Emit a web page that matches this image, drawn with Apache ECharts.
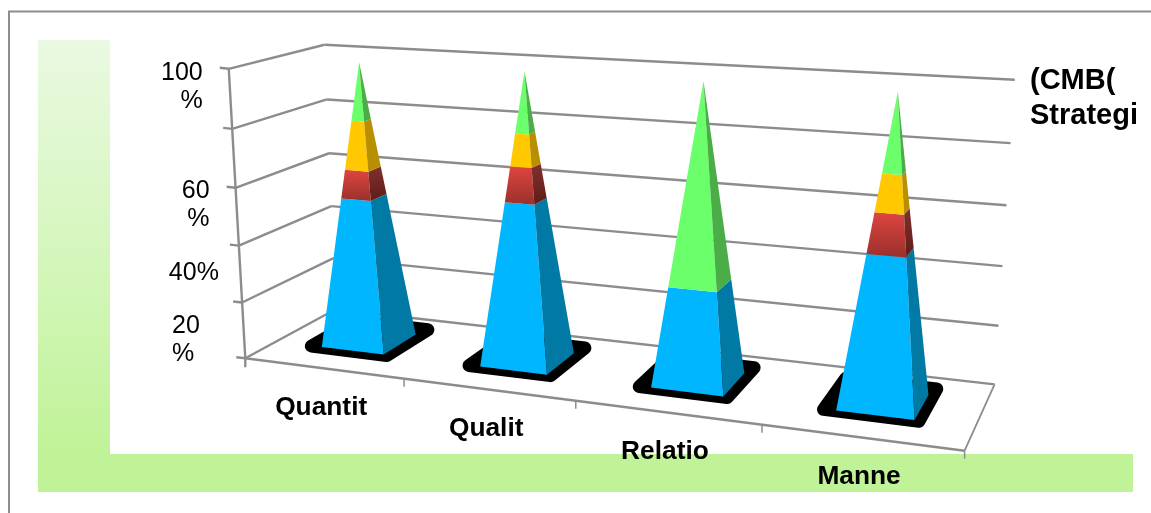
<!DOCTYPE html>
<html><head><meta charset="utf-8"><style>html,body{margin:0;padding:0;background:#fff}#c{width:1151px;height:513px}</style>
<script src="https://cdn.jsdelivr.net/npm/echarts@6/dist/echarts.min.js"></script></head>
<body><div id="c"></div><script>
const categories=['Quantit','Qualit','Relatio','Manne'];
const blueValues=[53,56.5,33.5,50];
const redValues=[10,12,0,13];
const yellowValues=[17,11,0,12];
const greenValues=[20,20.5,66.5,25];
const yTicks=[0,20,40,60,80,100];
const yTickLabels=[
 {v:100,text:'100\n%'},{v:60,text:'60\n%'},{v:40,text:'40%'},{v:20,text:'20\n%'}];
const legendLines=['(CMB(','Strategi'];

const G={left:240,top:60,width:760,height:300};
// perspective camera calibrated on the plot box: [x(0-4), value, depth(0-1), screenX, screenY]
const calib=[[0,0,0,246,355],[1,0,0,404,380],[2,0,0,576,402],[3,0,0,761,425],[4,0,0,965,452],
 [0,100,0,228,70],[0,60,0,236,186],[0,0,1,335,312],[0,100,1,325,44],[4,0,1,995,381],[4,100,1,1015,80],[4,60,1,1006,206]];
function solveCamera(){
 const n=11,A=[...Array(n)].map(()=>Array(n+1).fill(0));
 const add=(r,b)=>{for(let i=0;i<n;i++){for(let j=0;j<n;j++)A[i][j]+=r[i]*r[j];A[i][n]+=r[i]*b;}};
 calib.forEach(([x,y,z,u,v])=>{const Y=y/100;
  add([x,Y,z,1,0,0,0,0,-u*x,-u*Y,-u*z],u);
  add([0,0,0,0,x,Y,z,1,-v*x,-v*Y,-v*z],v);});
 for(let i=0;i<n;i++){let p=i;for(let k=i+1;k<n;k++)if(Math.abs(A[k][i])>Math.abs(A[p][i]))p=k;[A[i],A[p]]=[A[p],A[i]];
  for(let k=0;k<n;k++){if(k===i)continue;const f=A[k][i]/A[i][i];for(let j=i;j<=n;j++)A[k][j]-=f*A[i][j];}}
 return A.map((r,i)=>r[n]/r[i]);
}
const C=solveCamera();
function proj(api,x,val,z){
 const p=api.coord([x,val]);
 const X=(p[0]-G.left)/G.width*4, Y=(G.top+G.height-p[1])/G.height;
 const w=C[8]*X+C[9]*Y+C[10]*z+1;
 return [(C[0]*X+C[1]*Y+C[2]*z+C[3])/w,(C[4]*X+C[5]*Y+C[6]*z+C[7])/w];
}
const LINE='#8c8c8c';
const HW=0.2,ZC=0.52,HZ=0.195,TOP=0.992;
function seg(a,b,w){return {type:'line',shape:{x1:a[0],y1:a[1],x2:b[0],y2:b[1]},style:{stroke:LINE,lineWidth:w||2.4},silent:true};}

function pyramidSeries(name,valuesBelow,values,front,side){
 return {type:'custom',name,coordinateSystem:'cartesian2d',clip:false,z:4,silent:true,
  data:values.map((v,i)=>[i+0.5,valuesBelow[i],valuesBelow[i]+v]),
  encode:{x:0,y:2},
  renderItem(params,api){
   const xc=api.value(0),a=api.value(1),b=api.value(2);
   if(b<=a)return {type:'group',children:[]};
   const s=v=>1-v/100;
   const pt=(dx,dz,v)=>proj(api,xc+dx*HW*s(v),v*TOP,ZC+dz*HZ*s(v));
   return {type:'group',children:[
    {type:'polygon',shape:{points:[pt(-1,-1,a),pt(1,-1,a),pt(1,-1,b),pt(-1,-1,b)]},style:{fill:front},silent:true},
    {type:'polygon',shape:{points:[pt(1,-1,a),pt(1,1,a),pt(1,1,b),pt(1,-1,b)]},style:{fill:side},silent:true}
   ]};
  }};
}
const sum=(...arrs)=>arrs[0].map((_,i)=>arrs.reduce((s,a)=>s+a[i],0));
const zeros=categories.map(()=>0);
const redFront=new echarts.graphic.LinearGradient(0,0,0,1,[{offset:0,color:'#DE4540'},{offset:1,color:'#9A302C'}]);
const redSide=new echarts.graphic.LinearGradient(0,0,0,1,[{offset:0,color:'#82302C'},{offset:1,color:'#5F1C19'}]);

const option={
 animation:false,
 grid:{left:G.left,top:G.top,width:G.width,height:G.height},
 xAxis:{type:'value',min:0,max:4,interval:1,show:false},
 yAxis:{type:'value',min:0,max:100,interval:20,show:false},
 graphic:[
  {type:'line',z:0,shape:{x1:8,y1:11.5,x2:1151,y2:11.5},style:{stroke:'#8c8c8c',lineWidth:2}},
  {type:'line',z:0,shape:{x1:9,y1:11,x2:9,y2:513},style:{stroke:'#8c8c8c',lineWidth:2}},
  {type:'rect',z:0,shape:{x:38,y:40,width:72,height:414},style:{fill:new echarts.graphic.LinearGradient(0,0,0,1,[{offset:0,color:'#EAF9E2'},{offset:1,color:'#C0F398'}])}},
  {type:'rect',z:0,shape:{x:38,y:454,width:1095,height:38},style:{fill:'#C0F398'}},
  {type:'text',z:10,x:1030,y:63,style:{text:legendLines.join('\n'),font:'bold 29px "Liberation Sans"',lineHeight:35,fill:'#000'}}
 ],
 series:[
  {type:'custom',name:'walls',clip:false,z:2,silent:true,data:yTicks.map(v=>[0,v]),encode:{x:0,y:1},
   renderItem(params,api){
    const v=api.value(1),a=proj(api,0,v,0),b=proj(api,0,v,1),c=proj(api,4,v,1);
    const kids=[seg(a,b),seg(b,c),seg([a[0]-9,a[1]-1],a)];
    if(v<100){kids.push(seg(a,proj(api,0,v+20,0)));}
    if(v===0){kids.push(seg(proj(api,0,0,0),proj(api,4,0,0)),seg(proj(api,4,0,0),c,1.8),seg(a,[a[0],a[1]+9]));}
    return {type:'group',children:kids};
   }},
  {type:'custom',name:'category ticks',clip:false,z:2,silent:true,data:[1,2,3,4].map(x=>[x,0]),encode:{x:0,y:1},
   renderItem(params,api){const p=proj(api,api.value(0),0,0);return seg(p,[p[0],p[1]+8],1.5);}},
  {type:'custom',name:'floor shadow',clip:false,z:3,silent:true,data:categories.map((c,i)=>[i+0.5,0]),encode:{x:0,y:1},
   renderItem(params,api){
    const x=api.value(0)-0.02,sw=HW*1.22,sz=HZ*1.3,zs=ZC+0.05;
    const pts=[[-1,-1],[1,-1],[1,1],[-1,1]].map(([a,b])=>proj(api,x+a*sw,0,zs+b*sz));
    return {type:'polygon',shape:{points:pts},style:{fill:'#000',stroke:'#000',lineWidth:13,lineJoin:'round'},silent:true};
   }},
  pyramidSeries('Series 1',zeros,blueValues,'#00B7FF','#007AA5'),
  pyramidSeries('Series 2',blueValues,redValues,redFront,redSide),
  pyramidSeries('Series 3',sum(blueValues,redValues),yellowValues,'#FFC800','#B88F00'),
  pyramidSeries('Series 4',sum(blueValues,redValues,yellowValues),greenValues,'#6BFF6B','#4AAD47'),
  {type:'custom',name:'category labels',clip:false,z:6,silent:true,data:categories.map((c,i)=>[i+0.5,0]),encode:{x:0,y:1},
   renderItem(params,api){
    const i=params.dataIndex,p=proj(api,api.value(0),0,0);
    return {type:'text',x:p[0]-2,y:p[1]+39.5,style:{text:categories[i],font:'bold 26.3px "Liberation Sans"',fill:'#000',align:'center',verticalAlign:'middle'},silent:true};
   }},
  {type:'custom',name:'value labels',clip:false,z:6,silent:true,data:yTickLabels.map(l=>[0,l.v]),encode:{x:0,y:1},
   renderItem(params,api){
    const l=yTickLabels[params.dataIndex],p=proj(api,0,l.v,0);
    const place={100:[-26,3,'right'],60:[-26,2,'right'],40:[-20,26,'right'],20:[-70,23,'left']}[l.v];
    return {type:'text',x:p[0]+place[0],y:p[1]+place[1]-13,style:{text:l.text,font:'25px "Liberation Sans"',lineHeight:28,fill:'#000',align:place[2],verticalAlign:'top'},silent:true};
   }}
 ]
};
echarts.init(document.getElementById('c'),null,{renderer:'canvas'}).setOption(option);
</script></body></html>
